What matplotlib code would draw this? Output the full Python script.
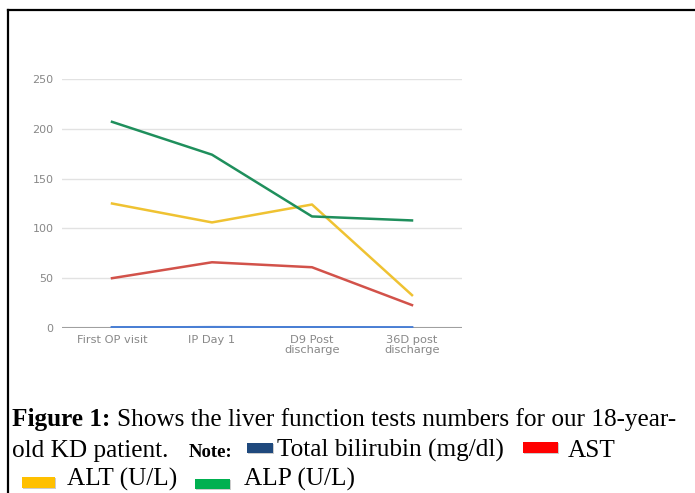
import matplotlib
matplotlib.use("Agg")
import matplotlib.pyplot as plt
from matplotlib.patches import Rectangle
from matplotlib.lines import Line2D

# Liver function panel over four visits
visits = ["First OP visit", "IP Day 1", "D9 Post\ndischarge", "36D post\ndischarge"]
bilirubin = [0.6, 0.8, 0.7, 0.5]
ast = [50, 66, 61, 23]
alt = [125, 106, 124, 33]
alp = [207, 174, 112, 108]
y_ticks = [0, 50, 100, 150, 200, 250]

series = [
    (bilirubin, "#4a7fd4"),
    (ast, "#d2524a"),
    (alt, "#efc232"),
    (alp, "#1f8f5c"),
]

W, H = 695, 493
fig = plt.figure(figsize=(W / 100, H / 100), dpi=100)
fig.patch.set_facecolor("white")

def fx(px):
    return px / W

def fy(py):
    return 1 - py / H

ax = fig.add_axes([fx(62), fy(328), fx(462) - fx(62), fy(79) - fy(328)])
x = list(range(len(visits)))
for vals, col in series:
    ax.plot(x, vals, color=col, lw=1.8, solid_joinstyle="round", zorder=3)

ax.set_xlim(-0.5, len(visits) - 0.5)
ax.set_ylim(0, 250)
ax.set_yticks(y_ticks)
ax.set_xticks(x)
ax.set_xticklabels(visits, fontsize=8.2, color="#888888", linespacing=1.0)
ax.set_yticklabels([str(v) for v in y_ticks], fontsize=8, color="#888888")
ax.tick_params(length=0, pad=6)
ax.tick_params(axis="x", pad=5)
ax.grid(axis="y", color="#e2e2e2", lw=1)
ax.set_axisbelow(True)
for s in ax.spines.values():
    s.set_visible(False)
ax.axhline(0, color="#a0a0a0", lw=1.5, zorder=2)
ax.plot(x, bilirubin, color="#4a7fd4", lw=1.8, zorder=4)

# Frame around the figure panel
fig.add_artist(Line2D([fx(8), 1], [fy(10), fy(10)], color="black", lw=1.6))
fig.add_artist(Line2D([fx(8), fx(8)], [fy(10), 0], color="black", lw=1.6))

serif = "Liberation Serif"
fs = 18.2

def txt(px, py, s, **kw):
    kw.setdefault("fontsize", fs)
    kw.setdefault("family", serif)
    fig.text(fx(px), fy(py), s, va="baseline", ha="left", color="black", **kw)

def swatch(px0, px1, py0, py1, col):
    fig.add_artist(Rectangle((fx(px0) + 0.002, fy(py1) - 0.003), fx(px1) - fx(px0),
                             fy(py0) - fy(py1), transform=fig.transFigure,
                             color="#9a9a9a", alpha=0.5, lw=0))
    fig.add_artist(Rectangle((fx(px0), fy(py1)), fx(px1) - fx(px0),
                             fy(py0) - fy(py1), transform=fig.transFigure,
                             color=col, lw=0))

txt(12, 426, "Figure 1:", weight="bold")
txt(117, 426, "Shows the liver function tests numbers for our 18-year-")
txt(12, 457, "old KD patient.")
txt(189, 457, "Note:", weight="bold", fontsize=13.5)
swatch(247, 273, 443, 453, "#1f497d")
txt(277, 457, "Total bilirubin (mg/dl)")
swatch(523, 558, 442, 453, "#ff0000")
txt(568, 457, "AST")
swatch(22, 55, 477, 488, "#ffc000")
txt(67, 486, "ALT (U/L)")
swatch(195, 230, 479, 489, "#00b050")
txt(244, 486, "ALP (U/L)")

fig.savefig("out.png", dpi=100)
